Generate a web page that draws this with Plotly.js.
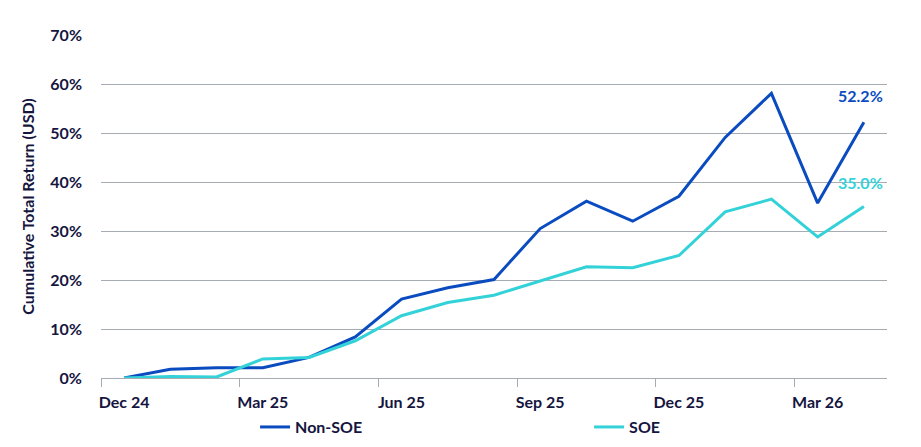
<!DOCTYPE html>
<html>
<head>
<meta charset="utf-8">
<script src="https://cdn.plot.ly/plotly-3.0.1.min.js"></script>
<style>
  html, body { margin: 0; padding: 0; background: #ffffff; }
  #chart { width: 921px; height: 447px; }
</style>
</head>
<body>
<div id="chart"></div>
<script>
// Monthly cumulative total return, Dec 24 .. Apr 26
const months = [
  "Dec 24", "Jan 25", "Feb 25", "Mar 25", "Apr 25", "May 25", "Jun 25",
  "Jul 25", "Aug 25", "Sep 25", "Oct 25", "Nov 25", "Dec 25", "Jan 26",
  "Feb 26", "Mar 26", "Apr 26"
];
const nonSoe = [0, 1.8, 2.1, 2.1, 4.2, 8.4, 16.1, 18.4, 20.1, 30.5, 36.1, 32.0, 37.1, 49.1, 58.1, 35.7, 52.2];
const soe = [0, 0.3, 0.2, 3.9, 4.2, 7.6, 12.7, 15.4, 16.9, 19.8, 22.7, 22.5, 25.0, 33.9, 36.5, 28.8, 35.0];
const labelledMonths = ["Dec 24", "Mar 25", "Jun 25", "Sep 25", "Dec 25", "Mar 26"];
const yTicks = [0, 10, 20, 30, 40, 50, 60, 70];

const NAVY = "#15153f";
const BLUE = "#0a4cc0";
const TEAL = "#33d2d8";
const GRID = "#a7abb2";
const FONT = "Lato, 'Noto Sans', sans-serif";

const xIdx = months.map((_, i) => i);
const last = months.length - 1;

const tickIdx = labelledMonths.map((m) => months.indexOf(m));
// tick marks sit on the boundary before each labelled month
const boundaries = tickIdx.map((i) => i - 0.5);

const traces = [
  {
    type: "scatter",
    mode: "lines",
    name: "Non-SOE",
    x: xIdx,
    y: nonSoe,
    line: { color: BLUE, width: 3 },
    hoverinfo: "skip",
    legend: "legend",
  },
  {
    type: "scatter",
    mode: "lines",
    name: "SOE",
    x: xIdx,
    y: soe,
    line: { color: TEAL, width: 3 },
    hoverinfo: "skip",
    legend: "legend2",
  },
];

const legendBase = {
  orientation: "h",
  xanchor: "left",
  y: -0.143,
  yanchor: "middle",
  itemwidth: 30,
  font: { family: FONT, color: NAVY, size: 16, weight: 700 },
  bgcolor: "rgba(0,0,0,0)",
};

const layout = {
  width: 921,
  height: 447,
  paper_bgcolor: "#ffffff",
  plot_bgcolor: "#ffffff",
  margin: { l: 101, r: 34, t: 35, b: 69, autoexpand: false },
  font: { family: FONT, color: NAVY, size: 16 },
  showlegend: true,
  legend: Object.assign({}, legendBase, { x: 0.196 }),
  legend2: Object.assign({}, legendBase, { x: 0.621 }),
  xaxis: {
    range: [-0.5, last + 0.5],
    tickmode: "array",
    tickvals: tickIdx,
    ticktext: labelledMonths,
    ticks: "",
    showgrid: false,
    zeroline: false,
    showline: true,
    linecolor: GRID,
    linewidth: 1,
    tickfont: { family: FONT, color: NAVY, size: 16, weight: 700 },
    ticklabelstandoff: 10,
    minor: {
      tickmode: "array",
      tickvals: boundaries,
      ticks: "outside",
      ticklen: 8,
      tickcolor: GRID,
      tickwidth: 1,
      showgrid: false,
    },
    fixedrange: true,
  },
  yaxis: {
    range: [0, 70],
    tickmode: "array",
    tickvals: yTicks,
    ticktext: yTicks.map((v) => v + "%"),
    ticks: "",
    showgrid: true,
    gridcolor: GRID,
    gridwidth: 1,
    zeroline: false,
    showline: false,
    tickfont: { family: FONT, color: NAVY, size: 16, weight: 700 },
    ticklabelstandoff: 18,
    title: {
      text: "Cumulative Total Return (USD)",
      font: { family: FONT, color: NAVY, size: 16, weight: 700 },
      standoff: 11,
    },
    fixedrange: true,
  },
  annotations: [
    {
      x: last,
      y: nonSoe[last],
      xref: "x",
      yref: "y",
      text: nonSoe[last].toFixed(1) + "%",
      showarrow: false,
      xanchor: "center",
      yanchor: "bottom",
      xshift: -3,
      yshift: 15,
      font: { family: FONT, color: BLUE, size: 16, weight: 700 },
    },
    {
      x: last,
      y: soe[last],
      xref: "x",
      yref: "y",
      text: soe[last].toFixed(1) + "%",
      showarrow: false,
      xanchor: "center",
      yanchor: "bottom",
      xshift: -3,
      yshift: 13,
      font: { family: FONT, color: TEAL, size: 16, weight: 700 },
    },
  ],
};

Plotly.newPlot("chart", traces, layout, { displayModeBar: false, staticPlot: true });
</script>
</body>
</html>
